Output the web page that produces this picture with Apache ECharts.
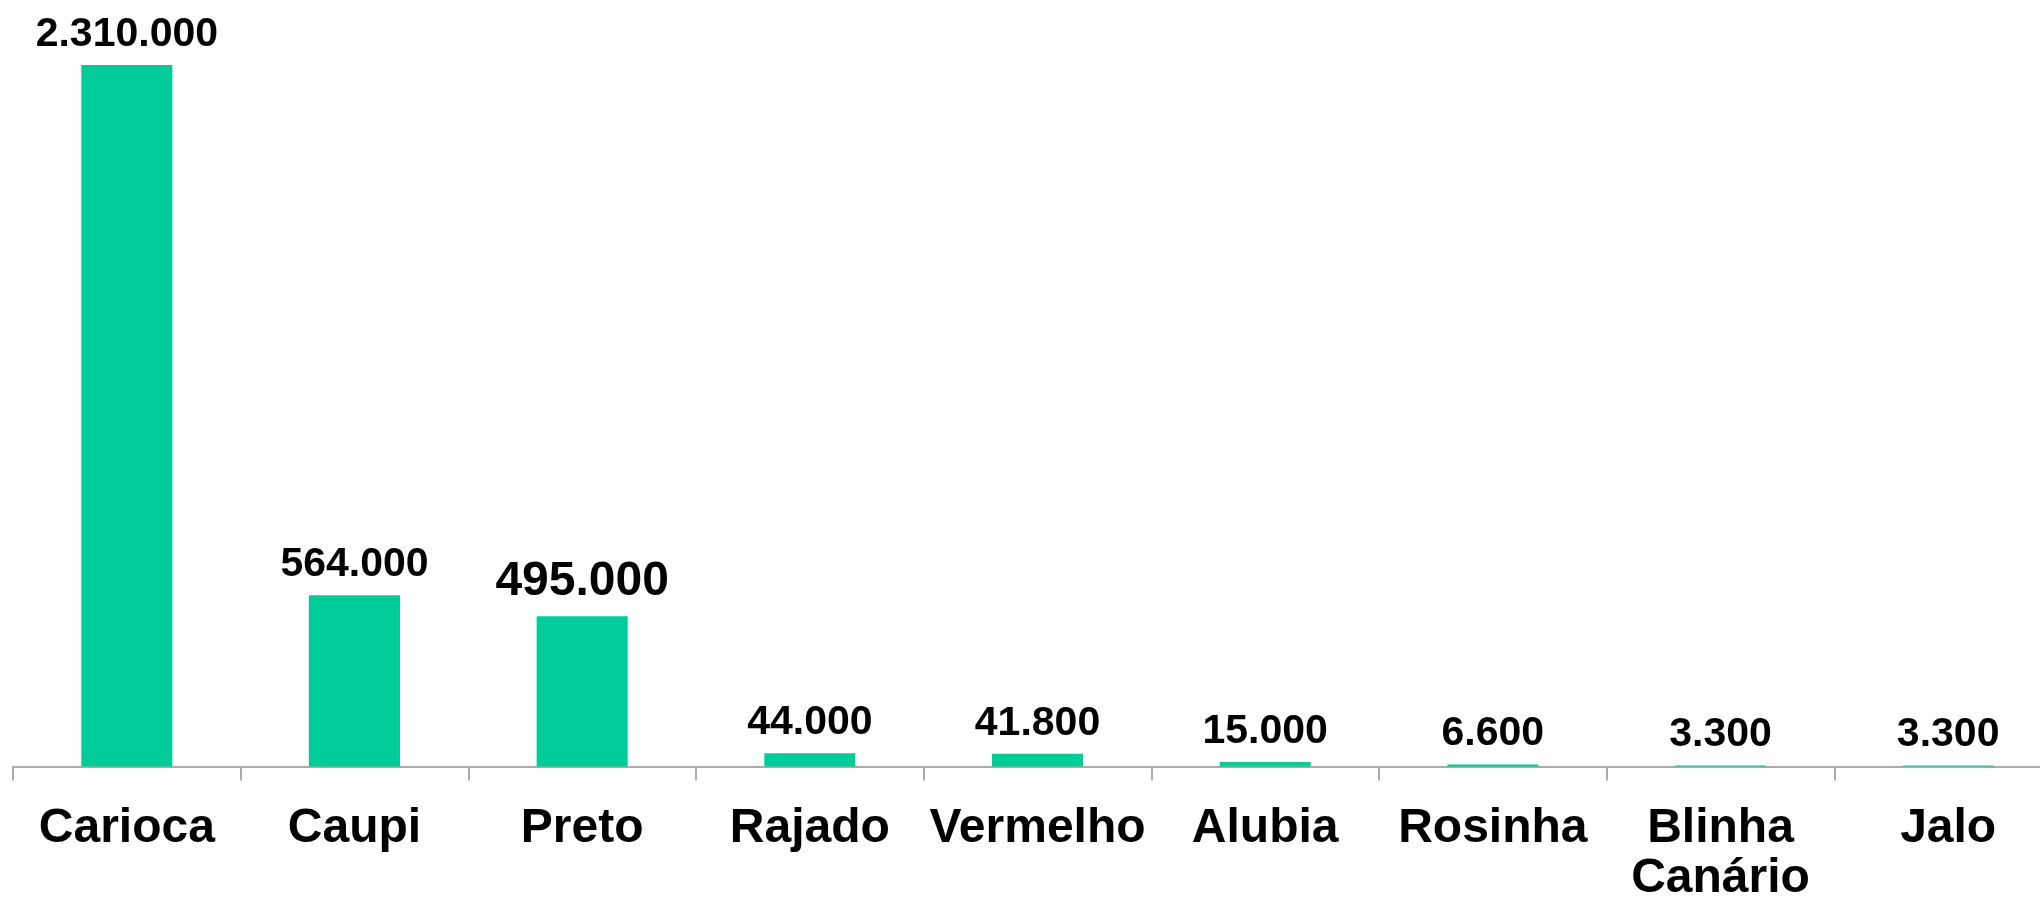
<!DOCTYPE html>
<html>
<head>
<meta charset="utf-8">
<script src="https://cdn.jsdelivr.net/npm/echarts@6/dist/echarts.min.js"></script>
<style>
  html, body { margin: 0; padding: 0; background: #fff; }
  #c_chart { width: 2040px; height: 898px; }
</style>
</head>
<body>
<div id="c_chart"></div>
<script>
// tipos de feijao e producao
var categories = ['Carioca', 'Caupi', 'Preto', 'Rajado', 'Vermelho', 'Alubia', 'Rosinha', 'Blinha\nCanário', 'Jalo'];
var values = [2310000, 564000, 495000, 44000, 41800, 15000, 6600, 3300, 3300];
var bigLabel = 'Preto'; // this one has a larger label in the original

var dm = document.getElementById('c_chart');
var ch = echarts.init(dm);

function fmt(v) {
    return String(v).replace(/\B(?=(\d{3})+(?!\d))/g, '.');
}

var dt = values.map(function (v, i) {
    var item = { value: v };
    if (categories[i] === bigLabel) {
        item.label = { fontSize: 48 };
    }
    return item;
});

var option = {
    animation: false,
    grid: {
        left: 13,
        right: -22,
        top: 65,
        bottom: 131.5,
        outerBoundsMode: 'none'
    },
    xAxis: {
        type: 'category',
        data: categories,
        boundaryGap: true,
        axisLine: { show: true, lineStyle: { color: '#ababab', width: 2 } },
        axisTick: { show: true, alignWithLabel: false, interval: 0, length: 14, lineStyle: { color: '#ababab', width: 2 } },
        axisLabel: {
            interval: 0,
            color: '#000',
            fontFamily: 'Liberation Sans',
            fontWeight: 'bold',
            fontSize: 48,
            lineHeight: 50,
            margin: 37
        }
    },
    yAxis: {
        type: 'value',
        min: 0,
        max: 2310000,
        show: false,
        splitLine: { show: false }
    },
    series: [
        {
            type: 'bar',
            data: dt,
            barWidth: 91,
            itemStyle: { color: '#00cc99' },
            label: {
                show: true,
                position: 'top',
                distance: 10,
                color: '#000',
                fontFamily: 'Liberation Sans',
                fontWeight: 'bold',
                fontSize: 41,
                formatter: function (p) { return fmt(p.value); }
            }
        }
    ]
};

ch.setOption(option);
window.onresize = function () {
    ch.resize();
};
</script>
</body>
</html>
